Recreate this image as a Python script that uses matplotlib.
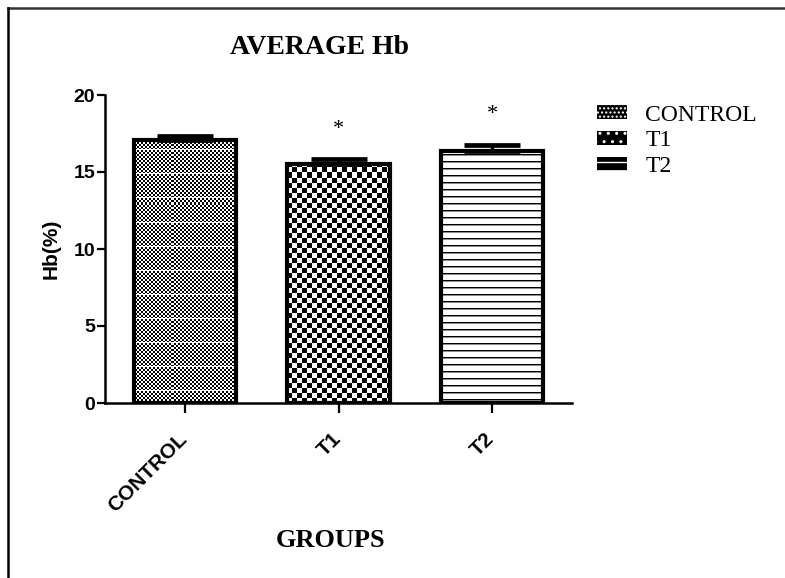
import numpy as np
import matplotlib
matplotlib.use('Agg')
import matplotlib.pyplot as plt
from matplotlib.patches import Patch
from matplotlib.lines import Line2D
import matplotlib.transforms as mtransforms

# ---- data ----
groups = ['CONTROL', 'T1', 'T2']
means = [17.1, 15.55, 16.35]
sems = [0.27, 0.27, 0.42]
marks = ['', '*', '*']
yticks = [0, 5, 10, 15, 20]
textures = ['fine', 'checker', 'lines']

plt.rcParams['hatch.linewidth'] = 1.0
SANS = 'Liberation Sans'
SERIF = 'Liberation Serif'

fig = plt.figure(figsize=(7.85, 5.78), dpi=100)
ax = fig.add_axes([105/785, 1-403/578, (572-105)/785, (403-95)/578])
x = np.arange(len(groups))

bars = ax.bar(x, means, width=0.665, facecolor='white', edgecolor='none', zorder=2)
ax.set_xlim(-0.52, 2.52)
ax.set_ylim(0, 20)


def make_texture(kind, nx, ny):
    i = np.arange(ny)[:, None]
    j = np.arange(nx)[None, :]
    if kind == 'fine':
        t = ((i // 2 + j // 2) % 2).astype(float)
        t[(i[:, 0] % 24) == 11, :] = 1.0
        return t
    if kind == 'checker':
        return ((i // 5 + j // 5) % 2).astype(float) * np.ones((ny, nx))
    t = np.ones((ny, nx))
    t[(i[:, 0] % 7) == 3, :] = 0.0
    t[(i[:, 0] % 7) == 4, :] = 0.55
    return t


inv = ax.transData.inverted()
for bar, kind in zip(bars, textures):
    x0, y0 = bar.get_x(), bar.get_y()
    w, h = bar.get_width(), bar.get_height()
    (px0, py0), (px1, py1) = ax.transData.transform([(x0, y0), (x0 + w, y0 + h)])
    px0, py0 = np.floor(px0), np.floor(py0)
    px1, py1 = np.ceil(px1), np.ceil(py1)
    nx, ny = int(px1 - px0), int(py1 - py0)
    (dx0, dy0), (dx1, dy1) = inv.transform([(px0, py0), (px1, py1)])
    tex = make_texture(kind, nx, ny)
    im = ax.imshow(tex, cmap='gray', vmin=0, vmax=1, interpolation='nearest',
                   extent=(dx0, dx1, dy0, dy1), origin='upper',
                   aspect='auto', zorder=2)
    im.set_clip_path(bar)

ax.set_xlim(-0.52, 2.52)
ax.set_ylim(0, 20)

# outlines
ax.bar(x, means, width=0.665, fill=False, edgecolor='black', linewidth=3.0, zorder=4)
# error bars (upper only)
ax.errorbar(x, means, yerr=[np.zeros(len(sems)), sems], fmt='none', ecolor='black',
            elinewidth=2.5, capsize=20.5, capthick=3.4, zorder=5)

for xi, m, s, mk in zip(x, means, sems, marks):
    if mk:
        ax.text(xi, m + s + 1.95, mk, ha='center', va='center', fontsize=16,
                family=SERIF, zorder=6)

# axes styling
for side in ['top', 'right']:
    ax.spines[side].set_visible(False)
for side in ['left', 'bottom']:
    ax.spines[side].set_linewidth(1.8)
ax.set_yticks(yticks)
ax.set_yticklabels([str(v) for v in yticks], fontsize=14, fontweight='bold', family=SANS)
ax.tick_params(axis='y', length=6, width=1.6, pad=1)
ax.set_xticks(x)
ax.set_xticklabels(groups, fontsize=15, fontweight='bold', family=SANS,
                   rotation=45, ha='right', va='top')
ax.tick_params(axis='x', length=7, width=1.6, pad=12)
offset = mtransforms.ScaledTranslation(6/100, 0, fig.dpi_scale_trans)
for lab in ax.get_xticklabels():
    lab.set_transform(lab.get_transform() + offset)

ax.set_ylabel('Hb(%)', fontsize=15, fontweight='bold', family=SANS)
ax.yaxis.set_label_coords(-0.096, 0.5)
ax.set_xlabel('GROUPS', fontsize=19, fontweight='bold', family=SERIF)
ax.xaxis.set_label_coords(0.482, -0.41)

fig.text(319/785, 1-48/578, 'AVERAGE Hb', ha='center', va='center',
         fontsize=20, fontweight='bold', family=SERIF)

# legend
handles = [Patch(facecolor='black', edgecolor='white', linewidth=0, hatch='....'),
           Patch(facecolor='black', edgecolor='white', linewidth=0, hatch='..'),
           Patch(facecolor='black', edgecolor='white', linewidth=0, hatch='--')]
leg = ax.legend(handles, groups, loc='upper left', bbox_to_anchor=(592/785, 1-100/578),
                bbox_transform=fig.transFigure, frameon=False,
                prop={'family': SERIF, 'size': 17}, handlelength=1.3, handleheight=0.55,
                handletextpad=0.75, labelspacing=0.2, borderaxespad=0, borderpad=0.2)

# outer frame (top and left edges)
fig.add_artist(Line2D([8/785, 1], [1-8/578, 1-8/578], transform=fig.transFigure,
                      color='#333333', linewidth=1.8))
fig.add_artist(Line2D([8/785, 8/785], [0, 1-8/578], transform=fig.transFigure,
                      color='black', linewidth=1.8))

fig.savefig('out.png', dpi=100)
